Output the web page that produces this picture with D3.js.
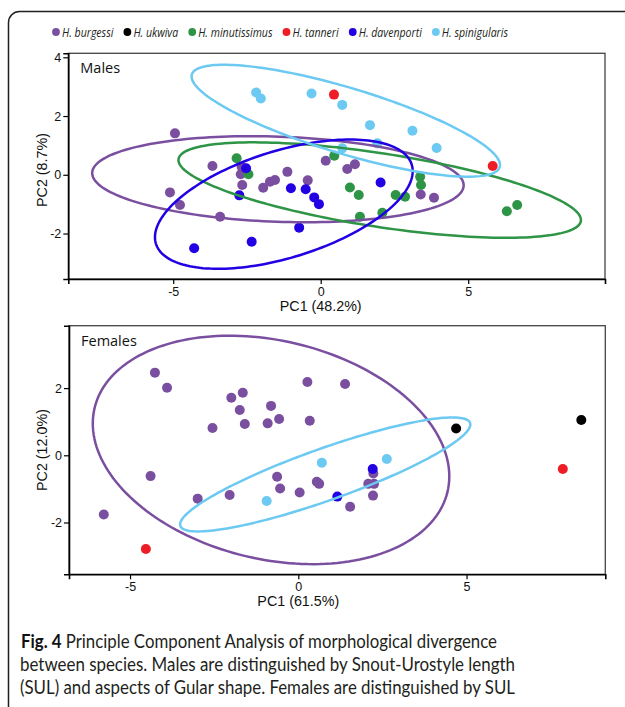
<!DOCTYPE html>
<html>
<head>
<meta charset="utf-8">
<script src="https://cdn.jsdelivr.net/npm/d3@7"></script>
<style>
  body { margin: 0; background: #fff; }
  svg { display: block; }
</style>
</head>
<body>
<div id="chart"></div>
<script>
// species shown in the legend, in drawing order
const speciesNames = ["H. burgessi", "H. ukwiva", "H. minutissimus", "H. tanneri", "H. davenporti", "H. spinigularis"];
const speciesColors = ["#7b4fa0", "#000000", "#2e9446", "#ee1c25", "#2200e4", "#6ccaf2"];

// Males: PCA scores [PC1, PC2]
const maleBurgessi = [[-4.94, 1.41], [-3.67, 0.30], [-2.68, 0.27], [-2.71, 0.02], [-2.66, -0.35], [-5.11, -0.60],
  [-4.77, -1.03], [-3.41, -1.43], [-1.95, -0.44], [-1.72, -0.24], [-1.55, -0.18], [-1.13, 0.10], [-0.44, -0.19],
  [0.17, 0.48], [0.90, 0.20], [1.16, 0.36], [3.39, -0.67], [3.84, -0.78]];
const maleUkwiva = [];
const maleMinutissimus = [[-2.85, 0.56], [-2.45, 0.02], [0.46, 0.65], [0.99, -0.43], [1.29, -0.69], [1.33, -1.43],
  [2.09, -1.29], [2.54, -0.69], [2.86, -0.75], [3.37, -0.07], [3.40, -0.35], [6.31, -1.24], [6.66, -1.03]];
const maleTanneri = [[0.45, 2.73], [5.83, 0.30]];
const maleDavenporti = [[-2.53, 0.22], [-2.76, -0.70], [-1.01, -0.46], [-0.51, -0.49], [-0.22, -0.77], [-0.06, -1.00],
  [-0.73, -1.80], [-2.34, -2.28], [-4.29, -2.50], [2.03, -0.26]];
const maleSpinigularis = [[-2.19, 2.80], [-2.03, 2.60], [-0.31, 2.77], [0.73, 2.38], [1.67, 1.69], [3.11, 1.50],
  [1.92, 1.07], [3.93, 0.91], [0.73, 0.90]];

// Females: PCA scores [PC1, PC2]
const femaleBurgessi = [[-4.26, 2.46], [-3.90, 2.01], [-1.99, 1.71], [-1.65, 1.86], [-1.74, 1.35], [-1.59, 0.93],
  [-2.55, 0.81], [-0.81, 1.47], [-0.57, 1.08], [-0.91, 0.95], [0.27, 2.18], [0.34, 1.03], [1.39, 2.12],
  [-4.39, -0.62], [-5.78, -1.76], [-2.99, -1.29], [-2.04, -1.18], [-0.63, -0.64], [-0.54, -0.99], [0.04, -1.11],
  [0.55, -0.79], [0.62, -0.85], [2.23, -0.54], [2.08, -0.85], [2.25, -0.85], [1.54, -1.53], [2.22, -1.20]];
const femaleUkwiva = [[4.69, 0.80], [8.41, 1.05]];
const femaleMinutissimus = [];
const femaleTanneri = [[-4.53, -2.79], [7.86, -0.41]];
const femaleDavenporti = [[2.21, -0.41], [1.16, -1.23]];
const femaleSpinigularis = [[-0.94, -1.36], [0.70, -0.22], [2.63, -0.11]];

// confidence ellipses: [species index, centre PC1, centre PC2, semi-major, semi-minor, angle in degrees]
const maleEllipses = [[0, -1.45, -0.15, 6.3, 1.45, -2], [2, 2.0, -0.52, 6.9, 1.25, -8.8],
  [4, -1.25, -1.0, 4.54, 1.82, 17.3], [5, 0.85, 1.84, 5.45, 1.12, -16.8]];
const femaleEllipses = [[0, -0.81, 0.16, 5.39, 3.25, -13.4], [5, 0.8, -0.57, 4.57, 0.77, 19.6]];

const malePC1Ticks = [-5, 0, 5];
const malePC2Ticks = [-2, 0, 2, 4];
const femalePC1Ticks = [-5, 0, 5];
const femalePC2Ticks = [-2, 0, 2];

const captionLines = [
  "between species. Males are distinguished by Snout-Urostyle length",
  "(SUL) and aspects of Gular shape. Females are distinguished by SUL"
];

const width = 625, height = 707;
const axisFont = "'Liberation Sans', Arimo, Arial, sans-serif";

const svg = d3.select("#chart").append("svg")
  .attr("width", width)
  .attr("height", height);

// outer figure frame (runs off the right and bottom edges)
svg.append("rect")
  .attr("x", 8.5).attr("y", 11.5)
  .attr("width", 700).attr("height", 760)
  .attr("rx", 11)
  .attr("fill", "none")
  .attr("stroke", "#231f20")
  .attr("stroke-width", 1.5);

// Legend: condensed italic labels, squeezed to the reference span
const legend = svg.append("g")
  .attr("font-family", "'Open Sans', sans-serif")
  .attr("font-style", "italic")
  .attr("font-size", 13)
  .attr("fill", "#231f20");

const legendTexts = speciesNames.map(name => legend.append("text").text(name));
const naturalWidths = legendTexts.map(t => t.node().getComputedTextLength());
const squeeze = 346 / d3.sum(naturalWidths);
let lx = 56;
legendTexts.forEach((t, i) => {
  const w = naturalWidths[i] * squeeze;
  legend.append("circle")
    .attr("cx", lx).attr("cy", 32).attr("r", 3.9)
    .attr("fill", speciesColors[i]);
  t.attr("x", lx + 6).attr("y", 36.5)
    .attr("textLength", w)
    .attr("lengthAdjust", "spacingAndGlyphs");
  lx += 6 + w + 14;
});

function drawPanel(p) {
  const x = d3.scaleLinear().domain(p.xDomain).range([p.left, p.right]);
  const y = d3.scaleLinear().domain(p.yDomain).range([p.bottom, p.top]);
  const g = svg.append("g");

  g.append("rect")
    .attr("x", p.left).attr("y", p.top)
    .attr("width", p.right - p.left).attr("height", p.bottom - p.top)
    .attr("fill", "none")
    .attr("stroke", "#444")
    .attr("stroke-width", 1.3);

  // points, species by species
  p.series.forEach((pts, i) => {
    g.selectAll(null)
      .data(pts)
      .enter()
      .append("circle")
      .attr("cx", d => x(d[0]))
      .attr("cy", d => y(d[1]))
      .attr("r", 5)
      .attr("fill", speciesColors[i]);
  });

  // ellipses
  const line = d3.line().x(d => x(d[0])).y(d => y(d[1])).curve(d3.curveLinearClosed);
  p.ellipses.forEach(([si, cx, cy, a, b, deg]) => {
    const th = deg * Math.PI / 180;
    const pts = d3.range(0, 2 * Math.PI, Math.PI / 90).map(t => [
      cx + a * Math.cos(t) * Math.cos(th) - b * Math.sin(t) * Math.sin(th),
      cy + a * Math.cos(t) * Math.sin(th) + b * Math.sin(t) * Math.cos(th)
    ]);
    g.append("path")
      .attr("d", line(pts))
      .attr("fill", "none")
      .attr("stroke", speciesColors[si])
      .attr("stroke-width", 2.5);
  });

  // Axes
  const xAxis = g.append("g")
    .attr("transform", `translate(0,${p.bottom})`)
    .call(d3.axisBottom(x).tickValues(p.xTicks).tickFormat(d => String(d)).tickSizeOuter(0).tickSize(5).tickPadding(3));
  const yAxis = g.append("g")
    .attr("transform", `translate(${p.left},0)`)
    .call(d3.axisLeft(y).tickValues(p.yTicks).tickFormat(d => String(d)).tickSizeOuter(0).tickSize(5).tickPadding(2));
  [xAxis, yAxis].forEach(ax => {
    ax.selectAll("text").attr("font-size", 12.5).attr("font-family", axisFont).attr("fill", "#111");
    ax.select(".domain").attr("stroke", "#000").attr("stroke-width", 1.6);
    ax.selectAll(".tick line").attr("stroke", "#000").attr("stroke-width", 1.2);
  });

  g.append("text")
    .attr("x", x(0))
    .attr("y", p.bottom + 31.5)
    .attr("text-anchor", "middle")
    .attr("font-family", axisFont)
    .attr("font-size", 14.3)
    .attr("fill", "#111")
    .text(p.xTitle);

  g.append("text")
    .attr("transform", `translate(46.5,${p.yTitleCenter}) rotate(-90)`)
    .attr("text-anchor", "middle")
    .attr("font-family", axisFont)
    .attr("font-size", 14.3)
    .attr("fill", "#111")
    .text(p.yTitle);

  g.append("text")
    .attr("x", p.left + 12)
    .attr("y", p.top + 20)
    .attr("font-family", "'Open Sans', sans-serif")
    .attr("font-size", 14.5)
    .attr("fill", "#111")
    .text(p.label);
}

drawPanel({
  label: "Males", xTitle: "PC1 (48.2%)", yTitle: "PC2 (8.7%)",
  xDomain: [-8.556, 9.637], yDomain: [-3.548, 4.136],
  left: 68.3, right: 605, top: 53.3, bottom: 279, yTitleCenter: 170,
  xTicks: malePC1Ticks, yTicks: malePC2Ticks,
  series: [maleBurgessi, maleUkwiva, maleMinutissimus, maleTanneri, maleDavenporti, maleSpinigularis],
  ellipses: maleEllipses
});

drawPanel({
  label: "Females", xTitle: "PC1 (61.5%)", yTitle: "PC2 (12.0%)",
  xDomain: [-6.814, 9.123], yDomain: [-3.542, 3.857],
  left: 69, right: 605.3, top: 325.7, bottom: 574.3, yTitleCenter: 450,
  xTicks: femalePC1Ticks, yTicks: femalePC2Ticks,
  series: [femaleBurgessi, femaleUkwiva, femaleMinutissimus, femaleTanneri, femaleDavenporti, femaleSpinigularis],
  ellipses: femaleEllipses
});

// Caption, squeezed horizontally to the justified measure of the reference
const capSize = 18.5;
const caption = svg.append("g")
  .attr("font-family", "Lato, 'Open Sans', sans-serif")
  .attr("font-size", capSize)
  .attr("fill", "#231f20");

const probe = caption.append("text").text(captionLines[0]);
const capSqueeze = 495 / probe.node().getComputedTextLength();
probe.remove();

const first = caption.append("text")
  .attr("x", 21).attr("y", 647.5);
first.append("tspan").attr("font-weight", "bold").attr("fill", "#111").text("Fig. 4");
first.append("tspan").text(" Principle Component Analysis of morphological divergence");
first.attr("textLength", 476)
  .attr("lengthAdjust", "spacingAndGlyphs");

captionLines.forEach((s, i) => {
  caption.append("text")
    .attr("x", 20)
    .attr("y", 671 + i * 23.3)
    .attr("textLength", 495)
    .attr("lengthAdjust", "spacingAndGlyphs")
    .text(s);
});
</script>
</body>
</html>
